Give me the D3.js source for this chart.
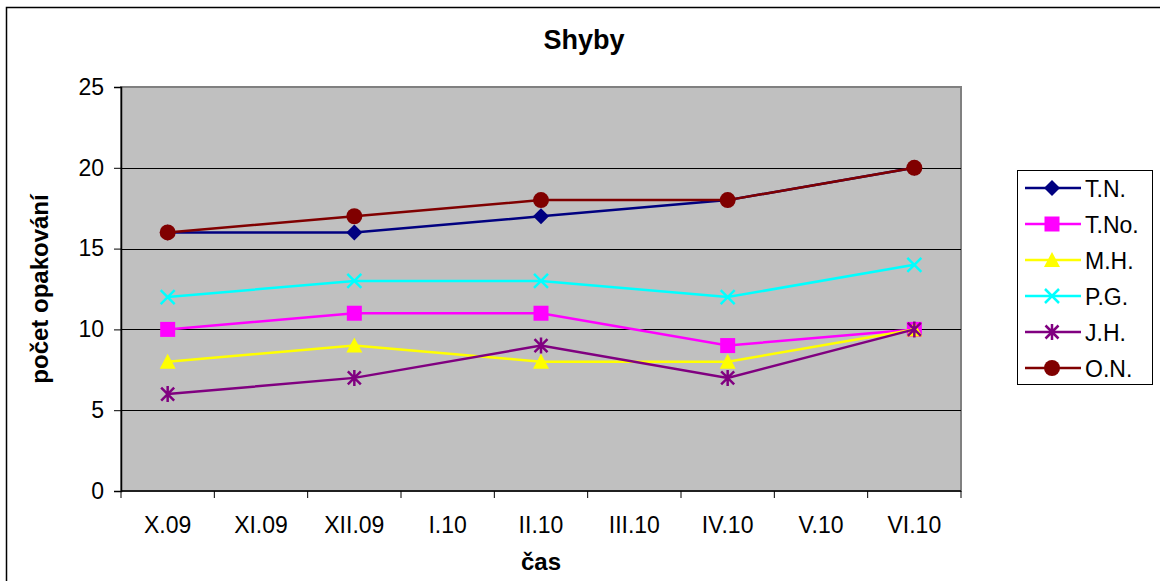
<!DOCTYPE html>
<html>
<head>
<meta charset="utf-8">
<script src="https://cdn.jsdelivr.net/npm/d3@7"></script>
<style>
  html, body { margin: 0; padding: 0; background: #fff; }
  svg { display: block; font-family: "Liberation Sans", Arial, sans-serif; }
</style>
</head>
<body>
<svg id="chart" width="1160" height="581"></svg>
<script>
// Months of the school year (measurements taken every other month)
const categories = ["X.09", "XI.09", "XII.09", "I.10", "II.10", "III.10", "IV.10", "V.10", "VI.10"];
const yTicks = [0, 5, 10, 15, 20, 25];

// Pull-up counts per pupil; null = no measurement that month
const tn  = [16, null, 16, null, 17, null, 18, null, 20];
const tno = [10, null, 11, null, 11, null, 9,  null, 10];
const mh  = [8,  null, 9,  null, 8,  null, 8,  null, 10];
const pg  = [12, null, 13, null, 13, null, 12, null, 14];
const jh  = [6,  null, 7,  null, 9,  null, 7,  null, 10];
const on  = [16, null, 17, null, 18, null, 18, null, 20];

const seriesNames  = ["T.N.", "T.No.", "M.H.", "P.G.", "J.H.", "O.N."];
const seriesValues = [tn, tno, mh, pg, jh, on];
const seriesColors = ["#000080", "#FF00FF", "#FFFF00", "#00FFFF", "#800080", "#800000"];
const seriesMarkers = ["diamond", "square", "triangle", "cross", "star", "circle"];

const svg = d3.select("#chart");
const plot = { left: 121, right: 961, top: 87, bottom: 491 };

const x = d3.scaleBand().domain(categories).range([plot.left, plot.right]).paddingInner(0).paddingOuter(0);
const y = d3.scaleLinear().domain([0, 25]).range([plot.bottom, plot.top]);

// Outer chart frame
svg.append("rect")
  .attr("x", 6.5).attr("y", 7.5).attr("width", 1170).attr("height", 600)
  .attr("fill", "#fff").attr("stroke", "#000").attr("stroke-width", 1.5);

// Plot area background
svg.append("rect")
  .attr("x", plot.left).attr("y", plot.top)
  .attr("width", plot.right - plot.left).attr("height", plot.bottom - plot.top)
  .attr("fill", "#C0C0C0").attr("stroke", "#808080").attr("stroke-width", 2);

// Horizontal gridlines
svg.append("g").selectAll("line")
  .data(yTicks.filter(d => d > 0 && d < 25))
  .join("line")
  .attr("x1", plot.left).attr("x2", plot.right)
  .attr("y1", d => Math.round(y(d)) + 0.5).attr("y2", d => Math.round(y(d)) + 0.5)
  .attr("stroke", "#000").attr("stroke-width", 1);

// Y axis
const yAxis = d3.axisLeft(y).tickValues(yTicks).tickSize(7).tickPadding(10);
const gy = svg.append("g").attr("transform", `translate(${plot.left},0)`).call(yAxis);
gy.select(".domain").attr("stroke", "#000").attr("stroke-width", 1.5);
gy.selectAll(".tick line").attr("stroke", "#000");
gy.selectAll(".tick text").attr("font-size", 23).attr("fill", "#000")
  .attr("font-family", '"Liberation Sans", Arial, sans-serif');

// X axis: ticks at category boundaries, labels centred in each band
const gx = svg.append("g").attr("transform", `translate(0,${plot.bottom})`);
gx.append("line").attr("x1", plot.left).attr("x2", plot.right)
  .attr("y1", 0).attr("y2", 0).attr("stroke", "#000").attr("stroke-width", 1.5);
const boundaries = categories.map(c => x(c)).concat([x(categories[categories.length - 1]) + x.bandwidth()]);
gx.selectAll("line.tk").data(boundaries).join("line").attr("class", "tk")
  .attr("x1", d => d).attr("x2", d => d).attr("y1", 0).attr("y2", 7)
  .attr("stroke", "#000").attr("stroke-width", 1);
gx.selectAll("text").data(categories).join("text")
  .attr("x", d => x(d) + x.bandwidth() / 2).attr("y", 42)
  .attr("text-anchor", "middle").attr("font-size", 23).attr("fill", "#000")
  .text(d => d);

// Titles
svg.append("text").attr("x", 584).attr("y", 49).attr("text-anchor", "middle")
  .attr("font-size", 27).attr("font-weight", "bold").text("Shyby");
svg.append("text").attr("x", (plot.left + plot.right) / 2).attr("y", 570).attr("text-anchor", "middle")
  .attr("font-size", 24).attr("font-weight", "bold").text("čas");
svg.append("text")
  .attr("transform", `translate(48,${(plot.top + plot.bottom) / 2}) rotate(-90)`)
  .attr("text-anchor", "middle").attr("font-size", 24).attr("font-weight", "bold")
  .text("počet opakování");

// Marker drawing
function drawMarker(g, type, color) {
  switch (type) {
    case "diamond":
      g.append("path").attr("d", "M0,-8L8,0L0,8L-8,0Z").attr("fill", color);
      break;
    case "square":
      g.append("rect").attr("x", -7.5).attr("y", -7.5).attr("width", 15).attr("height", 15).attr("fill", color);
      break;
    case "triangle":
      g.append("path").attr("d", "M0,-8L8,7L-8,7Z").attr("fill", color);
      break;
    case "cross":
      g.append("path").attr("d", "M-7,-7L7,7M-7,7L7,-7")
        .attr("stroke", color).attr("stroke-width", 2.5).attr("fill", "none");
      break;
    case "star":
      g.append("path").attr("d", "M-6.5,-6.5L6.5,6.5M-6.5,6.5L6.5,-6.5M0,-8L0,8")
        .attr("stroke", color).attr("stroke-width", 2.5).attr("fill", "none");
      break;
    case "circle":
      g.append("circle").attr("r", 8).attr("fill", color);
      break;
  }
}

const line = d3.line()
  .x(d => x(d.cat) + x.bandwidth() / 2)
  .y(d => y(d.v));

// Series lines with markers, drawn in legend order
seriesValues.forEach((vals, i) => {
  const pts = categories.map((c, j) => ({ cat: c, v: vals[j] })).filter(d => d.v != null);
  const g = svg.append("g");
  g.append("path").datum(pts).attr("d", line)
    .attr("fill", "none").attr("stroke", seriesColors[i]).attr("stroke-width", 2.5);
  pts.forEach(p => {
    const m = g.append("g").attr("transform", `translate(${x(p.cat) + x.bandwidth() / 2},${y(p.v)})`);
    drawMarker(m, seriesMarkers[i], seriesColors[i]);
  });
});

// Legend
const lg = svg.append("g");
lg.append("rect").attr("x", 1017.5).attr("y", 170.5).attr("width", 135).attr("height", 214)
  .attr("fill", "#fff").attr("stroke", "#000").attr("stroke-width", 1);
seriesNames.forEach((name, i) => {
  const cy = 188 + i * 36;
  const e = lg.append("g");
  e.append("line").attr("x1", 1025).attr("x2", 1081).attr("y1", cy).attr("y2", cy)
    .attr("stroke", seriesColors[i]).attr("stroke-width", 2.5);
  drawMarker(e.append("g").attr("transform", `translate(1052,${cy})`), seriesMarkers[i], seriesColors[i]);
  e.append("text").attr("x", 1085).attr("y", cy + 8.5).attr("font-size", 23).text(name);
});
</script>
</body>
</html>
